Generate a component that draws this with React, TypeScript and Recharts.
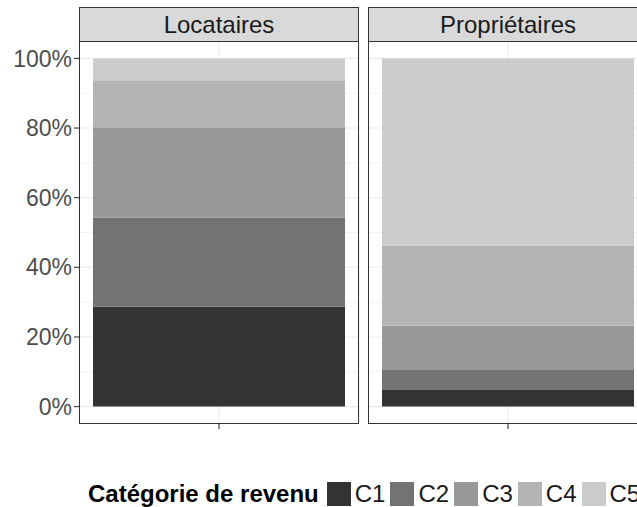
import React from "react";
import { BarChart, Bar, XAxis, YAxis, CartesianGrid } from "recharts";

const categories = ["C1", "C2", "C3", "C4", "C5"];
const facets = ["Locataires", "Propriétaires"];
const locataires = [28.7, 25.6, 25.7, 13.7, 6.3];
const proprietaires = [4.8, 5.7, 12.7, 23.0, 53.8];
const yTicks = [0, 20, 40, 60, 80, 100];
const yMinor = [10, 30, 50, 70, 90];
const colors = ["#333333", "#737373", "#989898", "#B4B4B4", "#CCCCCC"];

const FONT = '"Liberation Sans", Arial, Helvetica, sans-serif';

function rowFor(name: string, values: number[]) {
  const row: Record<string, string | number> = { name };
  categories.forEach((c, i) => {
    row[c] = values[i];
  });
  return [row];
}

const emptyTick = () => <g />;

function Panel({
  name,
  values,
  left,
  showY,
}: {
  name: string;
  values: number[];
  left: number;
  showY: boolean;
}) {
  const axisW = showY ? 79 : 0;
  const width = axisW + 281;
  return (
    <>
      <div style={{ position: "absolute", left, top: 0 }}>
        <BarChart
          width={width}
          height={440}
          data={rowFor(name, values)}
          margin={{ top: 41, right: 1, left: 0, bottom: 0 }}
          barCategoryGap="5%"
        >
          <CartesianGrid
            vertical={false}
            horizontalValues={yMinor}
            stroke="#EBEBEB"
            strokeWidth={0.6}
          />
          <CartesianGrid
            horizontalValues={yTicks}
            stroke="#EBEBEB"
            strokeWidth={1.1}
          />
          <XAxis
            dataKey="name"
            type="category"
            height={16}
            axisLine={false}
            tickLine={{ stroke: "#333333", strokeWidth: 1.1 }}
            tickSize={5}
            tick={emptyTick}
          />
          <YAxis
            type="number"
            domain={[-5, 105]}
            ticks={yTicks}
            allowDataOverflow
            hide={!showY}
            width={axisW}
            axisLine={false}
            tickLine={{ stroke: "#333333", strokeWidth: 1.1 }}
            tickSize={5}
            tickMargin={2}
            tickFormatter={(v) => v + "%"}
            tick={{ fill: "#4D4D4D", fontSize: 23, fontFamily: FONT }}
          />
          {categories.map((c, i) => (
            <Bar
              key={c}
              dataKey={c}
              stackId="s"
              fill={colors[i]}
              isAnimationActive={false}
            />
          ))}
        </BarChart>
      </div>
      <div
        style={{
          position: "absolute",
          left: left + axisW,
          top: 41,
          width: 280,
          height: 383,
          border: "1.1px solid #333333",
          boxSizing: "border-box",
          pointerEvents: "none",
        }}
      />
      <div
        style={{
          position: "absolute",
          left: left + axisW,
          top: 7,
          width: 280,
          height: 35,
          border: "1.1px solid #333333",
          boxSizing: "border-box",
          background: "#D9D9D9",
          color: "#1A1A1A",
          fontSize: 24,
          fontFamily: FONT,
          display: "flex",
          alignItems: "center",
          justifyContent: "center",
        }}
      >
        {name}
      </div>
    </>
  );
}

export default function App() {
  return (
    <div
      style={{
        position: "fixed",
        left: 0,
        top: 0,
        width: 637,
        height: 507,
        overflow: "hidden",
        background: "#FFFFFF",
        fontFamily: FONT,
      }}
    >
      <Panel name={facets[0]} values={locataires} left={0} showY />
      <Panel name={facets[1]} values={proprietaires} left={368} showY={false} />
      <div
        style={{
          position: "absolute",
          left: 88,
          top: 482,
          display: "flex",
          alignItems: "center",
          whiteSpace: "nowrap",
          height: 24,
        }}
      >
        <span style={{ fontWeight: "bold", fontSize: 24, color: "#000", marginRight: 8 }}>
          Catégorie de revenu
        </span>
        {categories.map((c, i) => (
          <span key={c} style={{ display: "flex", alignItems: "center", marginRight: 5 }}>
            <span
              style={{
                display: "inline-block",
                width: 24,
                height: 24,
                background: colors[i],
                marginRight: 4,
              }}
            />
            <span style={{ fontSize: 24, color: "#1A1A1A" }}>{c}</span>
          </span>
        ))}
      </div>
    </div>
  );
}
